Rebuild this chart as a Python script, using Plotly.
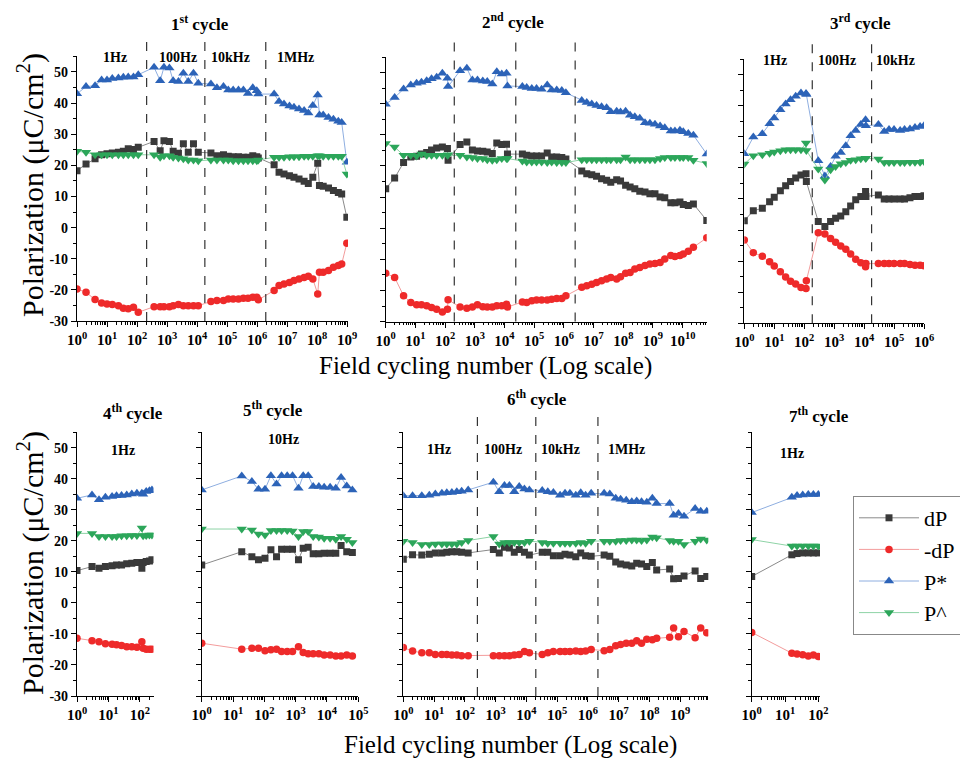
import plotly.graph_objects as go

W, H = 968, 758
OFF = 8  # the page body margin shifts the figure by this many pixels
SERIF = "Liberation Serif, Times New Roman, serif"

SERIES = ["dP", "-dP", "P*", "P^"]

# ---------------- 1st cycle ----------------
p1_x = [1, 2, 4, 6.6, 10, 15, 24, 35, 51, 76, 110,
        370, 590, 790, 1200, 1600, 2400, 3500, 5100, 7600, 11000,
        29000, 46000, 76000, 110000, 160000, 240000, 350000, 500000, 720000, 980000, 1.1e6,
        3.7e6, 5.4e6, 7.9e6, 1.2e7, 1.7e7, 2.5e7, 3.7e7, 5.1e7, 7.2e7, 1.05e8, 1.2e8, 1.6e8,
        2.4e8, 3.5e8, 5.1e8, 6.6e8, 9.8e8]
p1_dP = [18.3, 20.4, 22.1, 23.4, 23.7, 24.0, 24.2, 24.5, 25.3, 25.1, 25.8,
         27.7, 24.7, 27.9, 27.7, 24.5, 23.9, 26.9, 24.2, 26.9, 24.2,
         24.0, 23.1, 23.4, 22.9, 22.8, 22.8, 22.6, 22.6, 23.1, 22.8, 22.4,
         20.2, 17.8, 17.2, 16.7, 16.2, 15.6, 14.9, 14.2, 16.2, 20.7, 13.5, 13.3, 12.7, 11.9, 11.3, 10.8, 3.3]
p1_ndP = [-19.7, -20.8, -23.1, -24.2, -24.5, -24.7, -25.1, -25.9, -26.1, -25.6, -27.2,
          -25.4, -25.4, -25.4, -25.4, -25.1, -24.7, -25.1, -25.1, -25.1, -25.1,
          -23.7, -23.4, -23.4, -22.9, -22.9, -22.9, -22.7, -22.7, -22.4, -22.4, -23.2,
          -20.2, -18.6, -18.1, -17.6, -17.0, -16.5, -16.0, -15.6, -16.5, -21.3, -14.3, -14.3, -13.8, -12.7, -12.2, -11.7, -5.0]
p1_Ps = [43.0, 45.3, 45.6, 47.4, 47.4, 47.9, 48.1, 48.3, 48.4, 48.4, 49.1,
         51.5, 47.2, 51.5, 51.3, 47.2, 46.9, 49.6, 46.9, 49.6, 46.4,
         46.1, 44.9, 45.3, 44.2, 44.2, 44.2, 44.2, 43.1, 44.9, 44.0, 42.9,
         42.9, 40.5, 39.7, 39.1, 38.7, 38.1, 37.6, 36.8, 39.2, 42.6, 36.2, 36.2, 35.4, 34.8, 34.2, 33.8, 21.0]
p1_Ph = [24.5, 24.2, 23.4, 23.4, 23.4, 23.4, 23.4, 23.4, 23.4, 23.4, 23.4,
         23.4, 22.6, 23.1, 23.1, 22.6, 22.4, 22.1, 21.7, 21.7, 21.5,
         21.7, 21.7, 21.7, 21.7, 21.5, 21.5, 21.5, 21.5, 21.5, 21.5, 21.7,
         22.6, 22.6, 22.6, 22.8, 22.8, 22.8, 22.9, 22.9, 22.9, 23.1, 23.1, 22.9, 22.9, 22.9, 22.9, 22.9, 17.2]

# ---------------- 2nd cycle ----------------
p2_x = [1, 2, 4, 7, 11, 16, 24, 35, 52, 81, 120, 126,
        320, 540, 830, 1230, 1860, 2630, 3890, 5500, 8100, 11700, 12600,
        40000, 56000, 83000, 120000, 178000, 275000, 389000, 575000, 851000, 1.17e6,
        4.0e6, 5.9e6, 8.7e6, 1.26e7, 1.86e7, 2.75e7, 3.8e7, 6.0e7, 8.1e7, 1.2e8, 1.7e8, 2.45e8,
        3.6e8, 5.4e8, 7.9e8, 1.17e9, 1.74e9, 2.5e9, 4.0e9, 5.5e9, 8.1e9, 1.05e10, 1.55e10, 2.3e10, 6.5e10]
p2_dP = [12.7, 16.1, 21.1, 22.9, 23.1, 23.8, 24.3, 25.1, 25.8, 26.1, 25.6, 21.8,
         26.9, 27.7, 25.1, 24.8, 24.7, 24.5, 24.0, 27.4, 26.9, 27.0, 23.8,
         23.8, 23.4, 23.2, 23.2, 23.2, 24.2, 22.9, 22.9, 22.7, 22.2,
         18.4, 17.5, 17.2, 16.7, 15.9, 15.4, 14.8, 15.6, 15.2, 13.8, 13.2, 12.7, 11.9, 11.6, 11.1, 11.1,
         10.0, 9.8, 8.2, 8.2, 8.4, 7.6, 7.3, 7.8, 2.5]
p2_ndP = [-14.5, -15.8, -21.7, -23.9, -24.6, -24.6, -24.9, -25.5, -26.0, -26.9, -26.0, -23.0,
          -25.3, -25.7, -25.3, -24.6, -25.2, -25.3, -25.3, -24.9, -24.9, -24.4, -25.3,
          -23.7, -23.9, -23.3, -23.1, -23.1, -23.1, -22.8, -22.6, -22.6, -21.7,
          -19.0, -18.5, -18.0, -17.4, -16.9, -16.3, -15.8, -16.3, -15.6, -14.5, -14.2, -13.1, -12.6, -12.0,
          -11.5, -11.3, -11.0, -9.9, -8.8, -9.1, -8.8, -8.3, -7.4, -6.1, -3.1]
p2_Ps = [39.8, 42.0, 44.7, 46.0, 46.6, 46.9, 47.4, 48.0, 48.5, 49.8, 48.2, 45.5,
         50.6, 51.4, 47.6, 47.6, 47.3, 47.1, 46.3, 50.3, 49.5, 49.8, 45.7,
         45.5, 45.2, 44.9, 44.9, 44.6, 46.0, 44.4, 44.4, 44.2, 43.5,
         41.0, 40.4, 39.9, 39.4, 39.0, 38.7, 37.4, 37.6, 37.3, 37.6, 36.3, 35.8, 35.3, 33.9, 33.7, 33.4,
         32.8, 32.3, 31.2, 31.2, 31.5, 31.0, 30.4, 29.9, 23.8]
p2_Ph = [27.2, 26.1, 23.4, 23.4, 23.2, 23.8, 23.4, 23.4, 23.4, 23.4, 23.4, 23.6,
         23.4, 22.9, 22.7, 22.4, 22.4, 22.0, 21.8, 22.0, 22.4, 22.4, 22.4,
         21.6, 21.3, 21.3, 21.3, 21.3, 21.1, 21.3, 21.1, 21.1, 21.1,
         22.0, 22.0, 22.0, 22.0, 22.0, 22.0, 22.0, 22.0, 22.0, 22.9, 22.0, 22.0, 22.0, 22.0, 22.0, 22.0,
         22.4, 22.7, 22.7, 22.7, 22.7, 22.7, 22.7, 21.8, 20.8]

# ---------------- 3rd cycle ----------------
p3_x = [1, 2, 4, 7, 10, 16, 24, 35, 52, 78, 115, 118,
        295, 490, 760, 1120, 1660, 2450, 3550, 5250, 7760, 11200, 11500,
        30000, 47000, 68000, 100000, 160000, 224000, 340000, 500000, 740000, 1000000]
p3_dP = [3.0, 6.2, 7.0, 9.1, 10.5, 12.6, 14.2, 15.6, 16.7, 17.7, 18.1, 15.6,
         2.7, 1.1, 2.7, 3.8, 4.5, 5.9, 7.7, 9.7, 10.8, 12.4, 10.8,
         11.3, 10.0, 10.0, 10.0, 10.0, 10.0, 10.4, 10.8, 10.8, 11.0]
p3_ndP = [-3.2, -7.3, -8.4, -10.2, -11.6, -13.4, -15.1, -16.5, -17.4, -18.5, -18.8, -16.3,
          -0.9, -1.3, -2.7, -3.9, -5.1, -6.2, -7.7, -9.4, -10.5, -11.8, -10.8,
          -10.8, -10.8, -10.8, -10.8, -10.8, -10.8, -11.1, -11.3, -11.3, -11.5]
p3_Ps = [24.5, 29.9, 31.0, 34.2, 36.0, 38.7, 40.5, 41.9, 43.0, 44.1, 43.9, 43.6,
         22.3, 17.4, 20.4, 23.7, 24.9, 27.1, 30.3, 32.0, 33.9, 35.5, 33.5,
         33.9, 31.7, 32.3, 32.3, 32.0, 32.3, 32.5, 33.0, 33.3, 33.5]
p3_Ph = [21.2, 23.9, 24.2, 24.7, 25.1, 25.5, 25.8, 25.8, 25.8, 25.8, 28.0, 25.6,
         19.6, 16.1, 19.4, 20.4, 21.3, 21.7, 22.4, 22.6, 22.9, 23.1, 23.1,
         22.8, 21.7, 21.7, 21.7, 21.7, 21.7, 21.8, 21.8, 21.8, 22.0]

# ---------------- 4th cycle ----------------
p4_x = [1, 3, 5, 8, 13, 18, 26, 38, 55, 80, 115, 126, 158, 200, 240]
p4_dP = [10.4, 11.7, 11.2, 11.7, 12.0, 12.2, 12.2, 12.6, 12.8, 13.0, 11.2, 13.0, 13.3, 13.5, 13.9]
p4_ndP = [-11.4, -12.2, -12.5, -13.2, -13.3, -13.5, -13.7, -14.1, -14.1, -14.3, -12.5, -14.6, -14.9, -14.9, -14.9]
p4_Ps = [33.7, 34.8, 33.2, 34.0, 34.3, 34.5, 34.6, 34.8, 35.1, 35.3, 35.3, 35.0, 35.9, 36.1, 36.4]
p4_Ph = [22.4, 22.4, 21.4, 21.4, 21.4, 21.4, 21.6, 21.6, 21.7, 21.7, 24.1, 21.6, 21.7, 21.9, 21.9]

# ---------------- 5th cycle ----------------
p5_x = [1, 19, 40, 65, 105, 162, 245, 355, 537, 794, 1230, 1740, 2510, 3630, 5500, 8130,
        12600, 19100, 28200, 42700, 64600]
p5_dP = [12.2, 16.5, 14.9, 13.9, 14.4, 17.1, 14.9, 17.3, 17.3, 17.3, 13.9, 17.6, 17.9, 15.8, 15.8, 16.0,
         16.0, 16.0, 18.5, 16.5, 16.2]
p5_ndP = [-13.0, -14.9, -14.6, -14.6, -15.4, -15.1, -14.9, -15.7, -15.7, -15.7, -14.1, -16.0, -16.4, -16.4,
          -16.4, -16.8, -16.8, -17.1, -17.1, -16.8, -17.1]
p5_Ps = [36.4, 40.9, 39.1, 36.6, 36.6, 41.0, 38.3, 41.0, 41.0, 41.0, 36.9, 41.0, 41.0, 37.5, 37.5, 37.3,
         37.3, 36.9, 40.4, 37.7, 36.4]
p5_Ph = [23.8, 23.8, 23.5, 22.2, 21.9, 23.3, 23.3, 23.3, 23.3, 23.2, 21.4, 23.0, 23.0, 21.4, 21.2, 20.8,
         20.8, 20.5, 21.4, 20.5, 19.5]

# ---------------- 6th cycle ----------------
p6_x = [1, 2, 4, 7, 11, 18, 26, 38, 55, 79, 129,
        850, 1320, 1950, 2820, 4070, 5890, 8710, 12600,
        33000, 50000, 76000, 126000, 182000, 263000, 407000, 589000, 851000, 1.29e6,
        3.4e6, 5.2e6, 8.1e6, 1.17e7, 1.78e7, 2.7e7, 3.9e7, 5.6e7, 8.3e7, 1.26e8, 1.74e8,
        4.6e8, 6.2e8, 8.9e8, 1.35e9, 3.1e9, 4.7e9, 7.4e9]
p6_dP = [14.1, 15.5, 15.4, 15.7, 16.1, 16.1, 16.3, 16.5, 16.5, 16.3, 16.1,
         17.2, 16.1, 17.9, 17.7, 16.3, 17.2, 16.3, 15.4,
         16.3, 16.3, 15.2, 15.2, 15.7, 15.4, 14.9, 16.1, 15.2, 15.0,
         15.4, 15.0, 13.2, 12.5, 12.2, 11.9, 12.8, 12.5, 11.7, 13.0, 10.6, 10.9, 7.8, 7.9, 8.7, 10.3, 7.9, 8.5]
p6_ndP = [-14.4, -15.5, -16.1, -16.1, -16.6, -16.6, -16.6, -16.8, -16.8, -17.0, -17.0,
          -17.0, -17.0, -17.0, -17.0, -16.8, -16.6, -15.7, -16.1,
          -16.6, -16.1, -15.7, -15.7, -15.7, -15.7, -15.5, -15.7, -15.5, -15.0,
          -15.4, -15.0, -13.8, -13.4, -13.0, -13.0, -12.2, -13.0, -11.7, -11.9, -11.4, -11.1, -8.1, -10.9,
          -9.2, -11.2, -8.1, -9.6]
p6_Ps = [34.5, 34.5, 34.5, 34.7, 35.1, 35.3, 35.5, 35.6, 35.8, 36.0, 36.4,
         38.9, 35.8, 37.8, 37.8, 35.8, 37.5, 36.7, 36.4,
         36.2, 35.8, 35.6, 34.7, 35.3, 35.3, 34.7, 35.5, 34.7, 35.3,
         35.3, 35.1, 33.7, 33.4, 33.1, 32.6, 32.8, 32.6, 32.4, 33.7, 32.0, 32.0, 28.2, 28.8, 27.9, 30.4, 29.5, 29.5]
p6_Ph = [19.9, 19.5, 18.8, 18.8, 19.0, 19.0, 19.0, 19.0, 19.0, 19.5, 20.1,
         21.4, 19.0, 19.5, 19.5, 19.5, 19.5, 19.5, 19.9,
         19.5, 19.2, 19.2, 19.2, 19.2, 19.2, 19.2, 19.5, 19.2, 19.9,
         19.9, 19.9, 19.9, 20.1, 20.1, 20.3, 20.3, 20.1, 20.3, 21.2, 21.0, 20.1, 19.9, 19.9, 18.8, 19.9, 20.6, 20.3]

# ---------------- 7th cycle ----------------
p7_x = [1, 16, 23, 34, 50, 71, 100]
p7_dP = [8.5, 15.5, 15.9, 16.1, 16.1, 16.1, 16.1]
p7_ndP = [-9.5, -16.2, -16.5, -16.7, -17.1, -16.8, -17.3]
p7_Ps = [29.1, 34.0, 34.6, 34.8, 34.9, 34.9, 34.9]
p7_Ph = [20.4, 18.3, 18.3, 18.3, 18.3, 18.3, 18.3]

# Titles and frequency regions
cycle_titles = ["1<sup>st</sup> cycle", "2<sup>nd</sup> cycle", "3<sup>rd</sup> cycle",
                "4<sup>th</sup> cycle", "5<sup>th</sup> cycle", "6<sup>th</sup> cycle", "7<sup>th</sup> cycle"]
freq_labels = [["1Hz", "100Hz", "10kHz", "1MHz"], ["1Hz", "100Hz", "10kHz", "1MHz"],
               ["1Hz", "100Hz", "10kHz"], ["1Hz"], ["10Hz"], ["1Hz", "100Hz", "10kHz", "1MHz"], ["1Hz"]]
freq_bounds = [[209, 18200, 1.95e6], [204, 24000, 2.4e6], [186, 17800], [], [], [257, 20400, 2.14e6], []]
y_ticks = [-30, -20, -10, 0, 10, 20, 30, 40, 50]


def px_x(px):
    return (px - OFF) / W


def px_y(py):
    return 1 - (py - OFF) / H


# ---------------- layout geometry (pixels in the final picture) ----------------
panels = [
    dict(x=p1_x, ys=[p1_dP, p1_ndP, p1_Ps, p1_Ph], xpx=(77, 348), ypx=(56.4, 321.0), xmax=9.03, nd=9,
         tpos=(200, 23), fx=[1.27, 3.37, 5.1, 7.27], fy=54.5),
    dict(x=p2_x, ys=[p2_dP, p2_ndP, p2_Ps, p2_Ph], xpx=(385.7, 706.7), ypx=(57.0, 321.6), xmax=10.81, nd=10,
         tpos=(513, 21), fx=[1.38, 3.45, 5.25, 7.44], fy=55.5),
    dict(x=p3_x, ys=[p3_dP, p3_ndP, p3_Ps, p3_Ph], xpx=(744.3, 924), ypx=(59.0, 323.3), xmax=6.0, nd=6,
         tpos=(860, 22), fx=[1.02, 3.1, 5.06], fy=54.5),
    dict(x=p4_x, ys=[p4_dP, p4_ndP, p4_Ps, p4_Ph], xpx=(77, 153.5), ypx=(432.2, 696.0), xmax=2.43, nd=2,
         tpos=(133, 412), fx=[1.45], fy=49.0),
    dict(x=p5_x, ys=[p5_dP, p5_ndP, p5_Ps, p5_Ph], xpx=(201.7, 358.3), ypx=(432.2, 696.0), xmax=5.0, nd=5,
         tpos=(273, 409), fx=[2.6], fy=52.5),
    dict(x=p6_x, ys=[p6_dP, p6_ndP, p6_Ps, p6_Ph], xpx=(403.3, 708.3), ypx=(432.2, 696.0), xmax=9.92, nd=9,
         tpos=(537, 398), fx=[1.17, 3.24, 5.1, 7.25], fy=49.3),
    dict(x=p7_x, ys=[p7_dP, p7_ndP, p7_Ps, p7_Ph], xpx=(751.7, 820), ypx=(432.2, 696.0), xmax=2.05, nd=2,
         tpos=(819, 415), fx=[1.2], fy=48.0),
]

STY = {
    "dP": dict(symbol="square", mc="#3a3a3a", lc="#8a8a8a", size=7),
    "-dP": dict(symbol="circle", mc="#ee2a2a", lc="#f39c9c", size=7.5),
    "P*": dict(symbol="triangle-up", mc="#2c63b8", lc="#8eaee0", size=9),
    "P^": dict(symbol="triangle-down", mc="#2ca65a", lc="#8ed3a6", size=9),
}

fig = go.Figure()
layout = dict(width=W, height=H, margin=dict(l=0, r=0, t=0, b=0, autoexpand=False),
              paper_bgcolor="white", plot_bgcolor="white",
              font=dict(family=SERIF, color="black"),
              showlegend=True)
annotations = []
shapes = []

for i, p in enumerate(panels):
    k = i + 1
    xa = "x" if k == 1 else f"x{k}"
    ya = "y" if k == 1 else f"y{k}"
    top, bot = p["ypx"]
    xdom = [px_x(p["xpx"][0]), px_x(p["xpx"][1])]
    ydom = [px_y(bot), px_y(top)]
    for name, yv in zip(SERIES, p["ys"]):
        s = STY[name]
        fig.add_trace(go.Scatter(
            x=p["x"], y=yv, xaxis=xa, yaxis=ya, mode="lines+markers", name=name,
            legendgroup=name, showlegend=(k == 1),
            line=dict(color=s["lc"], width=1),
            marker=dict(symbol=s["symbol"], color=s["mc"], size=s["size"], line=dict(width=0)),
        ))
    tv = [10 ** d for d in range(p["nd"] + 1)]
    tt = [f"<b>10<sup>{d}</sup></b>" for d in range(p["nd"] + 1)]
    layout["xaxis" if k == 1 else f"xaxis{k}"] = dict(
        type="log", domain=xdom, anchor=ya, range=[0, p["xmax"]], automargin=False,
        tickmode="array", tickvals=tv, ticktext=tt,
        ticks="outside", ticklen=5, tickwidth=1.2, tickcolor="black",
        showline=True, linecolor="black", linewidth=1.3, showgrid=False, zeroline=False,
        tickfont=dict(family=SERIF, size=15, color="black"),
        minor=dict(ticks="outside", ticklen=2.5, tickwidth=0.8, tickcolor="black", dtick="D1", showgrid=False),
    )
    layout["yaxis" if k == 1 else f"yaxis{k}"] = dict(
        domain=ydom, anchor=xa, range=[-30, 55], automargin=False,
        tickmode="array", tickvals=y_ticks, ticktext=[f"<b>{v}</b>" for v in y_ticks],
        showticklabels=(k in (1, 4)),
        ticks="outside", ticklen=5, tickwidth=1.2, tickcolor="black",
        showline=True, linecolor="black", linewidth=1.3, showgrid=False, zeroline=False,
        tickfont=dict(family=SERIF, size=14, color="black"),
        minor=dict(ticks="outside", ticklen=3, tickwidth=1, tickcolor="black", dtick=5, tick0=-30, showgrid=False),
    )
    # cycle title
    annotations.append(dict(text=f"<b>{cycle_titles[i]}</b>", xref="paper", yref="paper",
                            x=px_x(p["tpos"][0]), y=px_y(p["tpos"][1]), showarrow=False,
                            xanchor="center", yanchor="middle",
                            font=dict(family=SERIF, size=17, color="black")))
    # frequency labels
    for lab, fx in zip(freq_labels[i], p["fx"]):
        annotations.append(dict(text=f"<b>{lab}</b>", xref=xa, yref=ya, x=fx, y=p["fy"],
                                showarrow=False, xanchor="center", yanchor="middle",
                                font=dict(family=SERIF, size=14, color="black")))
    # dashed region boundaries
    for b in freq_bounds[i]:
        shapes.append(dict(type="line", xref=xa, yref="paper", x0=b, x1=b,
                           y0=ydom[0], y1=px_y(top - 16),
                           line=dict(color="#333333", width=1.2, dash="dash")))

# axis titles
for yc in (185, 563):
    annotations.append(dict(text="Polarization (μC/cm<sup>2</sup>)", xref="paper", yref="paper",
                            x=px_x(30), y=px_y(yc), textangle=-90, showarrow=False,
                            xanchor="center", yanchor="middle",
                            font=dict(family=SERIF, size=30, color="black")))
for xc, yc in ((485, 366), (510, 745)):
    annotations.append(dict(text="Field cycling number (Log scale)", xref="paper", yref="paper",
                            x=px_x(xc), y=px_y(yc), showarrow=False,
                            xanchor="center", yanchor="middle",
                            font=dict(family=SERIF, size=25, color="black")))

layout["annotations"] = annotations
layout["shapes"] = shapes
layout["legend"] = dict(x=px_x(853), y=px_y(496), xanchor="left", yanchor="top",
                        bgcolor="white", bordercolor="#888888", borderwidth=1,
                        font=dict(family=SERIF, size=22, color="black"),
                        tracegroupgap=0, itemwidth=60)
fig.update_layout(**layout)
fig.write_html("out.html")
